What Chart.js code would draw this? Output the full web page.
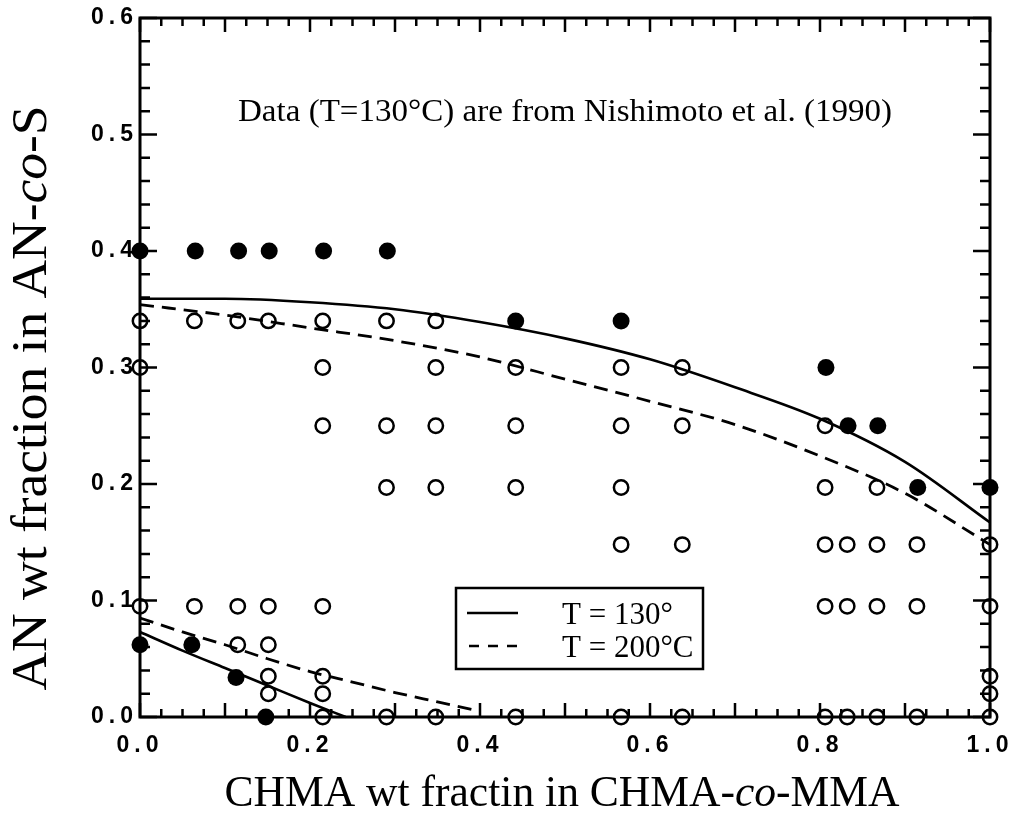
<!DOCTYPE html>
<html><head><meta charset="utf-8">
<script src="https://cdn.jsdelivr.net/npm/chart.js@4.4.0/dist/chart.umd.min.js"></script>
<style>html,body{margin:0;padding:0;background:#fff;}#wrap{width:1015px;height:825px;}</style>
</head><body><div id="wrap"><canvas id="c" width="1015" height="825"></canvas></div>
<script>
// ---- data ----
const xTickValues = [0, 0.2, 0.4, 0.6, 0.8, 1.0];
const yTickValues = [0, 0.1, 0.2, 0.3, 0.4, 0.5, 0.6];

const filledX = [0, 0.065, 0.116, 0.152, 0.216, 0.291, 0.442, 0.566, 0.807, 0.833, 0.868, 0.915, 1.0, 0, 0.061, 0.113, 0.148];
const filledY = [0.4, 0.4, 0.4, 0.4, 0.4, 0.4, 0.34, 0.34, 0.30, 0.25, 0.25, 0.197, 0.197, 0.062, 0.062, 0.034, 0.0];

const openX = [
  0, 0.064, 0.115, 0.151, 0.215, 0.29, 0.348,
  0, 0.215, 0.348, 0.442, 0.566, 0.638,
  0.215, 0.29, 0.348, 0.442, 0.566, 0.638, 0.806,
  0.29, 0.348, 0.442, 0.566, 0.806, 0.867,
  0.566, 0.638, 0.806, 0.832, 0.867, 0.914, 1.0,
  0, 0.064, 0.115, 0.151, 0.215, 0.806, 0.832, 0.867, 0.914, 1.0,
  0.115, 0.151,
  0.151, 0.215, 1.0,
  0.151, 0.215, 1.0,
  0.215, 0.29, 0.348, 0.442, 0.566, 0.638, 0.806, 0.832, 0.867, 0.914, 1.0
];
const openY = [
  0.34, 0.34, 0.34, 0.34, 0.34, 0.34, 0.34,
  0.30, 0.30, 0.30, 0.30, 0.30, 0.30,
  0.25, 0.25, 0.25, 0.25, 0.25, 0.25, 0.25,
  0.197, 0.197, 0.197, 0.197, 0.197, 0.197,
  0.148, 0.148, 0.148, 0.148, 0.148, 0.148, 0.148,
  0.095, 0.095, 0.095, 0.095, 0.095, 0.095, 0.095, 0.095, 0.095, 0.095,
  0.062, 0.062,
  0.035, 0.035, 0.035,
  0.02, 0.02, 0.02,
  0, 0, 0, 0, 0, 0, 0, 0, 0, 0, 0
];

const solidHighX = [0, 0.1, 0.2, 0.3, 0.4, 0.5, 0.6, 0.7, 0.8, 0.9, 1.0];
const solidHighY = [0.359, 0.359, 0.356, 0.35, 0.339, 0.325, 0.307, 0.283, 0.256, 0.219, 0.167];
const solidLowX = [0, 0.05, 0.1, 0.15, 0.2, 0.242];
const solidLowY = [0.073, 0.057, 0.042, 0.027, 0.012, 0];

const dashHighX = [0, 0.1, 0.2, 0.3, 0.4, 0.5, 0.6, 0.7, 0.8, 0.9, 1.0];
const dashHighY = [0.354, 0.345, 0.334, 0.323, 0.309, 0.29, 0.271, 0.251, 0.224, 0.192, 0.148];
const dashLowX = [0, 0.05, 0.1, 0.15, 0.2, 0.25, 0.3, 0.35, 0.4];
const dashLowY = [0.085, 0.073, 0.062, 0.05, 0.039, 0.03, 0.021, 0.013, 0.005];

const legendLabels = ["T = 130°", "T = 200°C"];
const annotationText = "Data (T=130°C) are from Nishimoto et al. (1990)";
const xTitleParts = [["CHMA wt fractin in CHMA-", false], ["co", true], ["-MMA", false]];
const yTitleParts = [["AN wt fraction in AN-", false], ["co", true], ["-S", false]];

// ---- helpers ----
const pts = (xs, ys) => xs.map((x, i) => ({x, y: ys[i]}));
const SERIF = '"Liberation Serif", "Times New Roman", serif';
const SANS = '"Liberation Sans", Arial, sans-serif';
const DASH = [14, 8];

Chart.defaults.font.family = SANS;
Chart.defaults.font.size = 23;
Chart.defaults.color = '#000';

function drawMixed(ctx, parts, size, targetW) {
  const fonts = parts.map(p => (p[1] ? 'italic ' : '') + size + 'px ' + SERIF);
  let w = 0;
  const ws = parts.map((p, i) => { ctx.font = fonts[i]; const m = ctx.measureText(p[0]).width; w += m; return m; });
  const sx = targetW ? targetW / w : 1;
  ctx.save();
  ctx.scale(sx, 1);
  let cx = -w / 2;
  ctx.textAlign = 'left';
  ctx.textBaseline = 'alphabetic';
  parts.forEach((p, i) => { ctx.font = fonts[i]; ctx.fillText(p[0], cx, 0); cx += ws[i]; });
  ctx.restore();
}

const decor = {
  id: 'decor',
  beforeDraw(chart) { chart.ctx.letterSpacing = '5px'; },
  beforeDatasetsDraw(chart) {
    const ctx = chart.ctx;
    ctx.letterSpacing = '0px';
    const {left, right, top, bottom} = chart.chartArea;
    const xs = chart.scales.x, ys = chart.scales.y;
    ctx.save();
    ctx.strokeStyle = '#000';
    ctx.lineCap = 'butt';
    ctx.lineWidth = 2.5;
    ctx.beginPath();
    for (let i = 0; i <= 40; i++) {
      const px = xs.getPixelForValue(i * 0.025);
      const len = (i % 4 === 0) ? 14 : 8;
      ctx.moveTo(px, bottom); ctx.lineTo(px, bottom - len);
      ctx.moveTo(px, top); ctx.lineTo(px, top + len);
    }
    for (let i = 0; i <= 30; i++) {
      const py = ys.getPixelForValue(i * 0.02);
      const len = (i % 5 === 0) ? 17 : 10;
      ctx.moveTo(left, py); ctx.lineTo(left + len, py);
      ctx.moveTo(right, py); ctx.lineTo(right - len, py);
    }
    ctx.stroke();
    ctx.lineWidth = 3;
    ctx.strokeRect(left, top, right - left, bottom - top);
    ctx.restore();
  },
  afterDraw(chart) {
    const ctx = chart.ctx;
    ctx.save();
    ctx.letterSpacing = '0px';
    ctx.fillStyle = '#000';
    ctx.strokeStyle = '#000';
    // annotation
    ctx.save();
    ctx.translate(565, 121);
    drawMixed(ctx, [[annotationText, false]], 32, 654);
    ctx.restore();
    // legend box
    ctx.lineWidth = 2.5;
    ctx.strokeRect(456, 588, 247, 81);
    ctx.beginPath();
    ctx.moveTo(467, 613); ctx.lineTo(518, 613);
    ctx.stroke();
    ctx.setLineDash([10, 9]);
    ctx.beginPath();
    ctx.moveTo(469, 646); ctx.lineTo(520, 646);
    ctx.stroke();
    ctx.setLineDash([]);
    ctx.font = '31px ' + SERIF;
    ctx.textAlign = 'left';
    ctx.textBaseline = 'alphabetic';
    ctx.fillText(legendLabels[0], 562, 624);
    ctx.fillText(legendLabels[1], 562, 657);
    // x title
    ctx.save();
    ctx.translate(562, 806);
    drawMixed(ctx, xTitleParts, 44, 675);
    ctx.restore();
    // y title
    ctx.save();
    ctx.translate(46, 398);
    ctx.rotate(-Math.PI / 2);
    drawMixed(ctx, yTitleParts, 50, 585);
    ctx.restore();
    ctx.restore();
  }
};

const tickFont = {family: SANS, size: 23, weight: 'bold'};

new Chart(document.getElementById('c'), {
  type: 'scatter',
  data: {
    datasets: [
      {label: 'filled', data: pts(filledX, filledY), showLine: false,
       pointRadius: 8.5, pointHoverRadius: 8.5, backgroundColor: '#000', borderColor: '#000', borderWidth: 0, clip: false, order: 1},
      {label: 'open', data: pts(openX, openY), showLine: false,
       pointRadius: 7.2, pointHoverRadius: 7.2, backgroundColor: 'rgba(0,0,0,0)', borderColor: '#000', pointBorderWidth: 2.5, borderWidth: 2.5, clip: false, order: 2},
      {label: legendLabels[0], data: pts(solidHighX, solidHighY), showLine: true, pointRadius: 0,
       borderColor: '#000', borderWidth: 2.6, cubicInterpolationMode: 'monotone', clip: false, order: 3},
      {label: legendLabels[0] + ' low', data: pts(solidLowX, solidLowY), showLine: true, pointRadius: 0,
       borderColor: '#000', borderWidth: 2.6, cubicInterpolationMode: 'monotone', clip: false, order: 3},
      {label: legendLabels[1], data: pts(dashHighX, dashHighY), showLine: true, pointRadius: 0,
       borderColor: '#000', borderWidth: 2.8, borderDash: DASH, cubicInterpolationMode: 'monotone', clip: false, order: 4},
      {label: legendLabels[1] + ' low', data: pts(dashLowX, dashLowY), showLine: true, pointRadius: 0,
       borderColor: '#000', borderWidth: 2.8, borderDash: DASH, cubicInterpolationMode: 'monotone', clip: false, order: 4}
    ]
  },
  options: {
    responsive: false,
    animation: false,
    devicePixelRatio: 1,
    layout: {padding: {top: 18, right: 25, left: 0, bottom: 0}},
    plugins: {legend: {display: false}, tooltip: {enabled: false}, title: {display: false}},
    scales: {
      x: {
        type: 'linear', position: 'bottom', min: 0, max: 1,
        afterBuildTicks: s => { s.ticks = xTickValues.map(v => ({value: v})); },
        ticks: {callback: v => Number(v).toFixed(1), font: tickFont, color: '#000', padding: 15, maxRotation: 0, autoSkip: false},
        grid: {display: false, drawTicks: false}, border: {display: false},
        afterFit: s => { s.height = 108; s.paddingLeft = 0; s.paddingRight = 0; }
      },
      y: {
        type: 'linear', position: 'left', min: 0, max: 0.6,
        afterBuildTicks: s => { s.ticks = yTickValues.map(v => ({value: v})); },
        ticks: {callback: v => Number(v).toFixed(1), font: tickFont, color: '#000', padding: 2, autoSkip: false},
        grid: {display: false, drawTicks: false}, border: {display: false},
        afterFit: s => { s.width = 140; s.paddingTop = 0; s.paddingBottom = 0; }
      }
    }
  },
  plugins: [decor]
});
</script>
</body></html>
